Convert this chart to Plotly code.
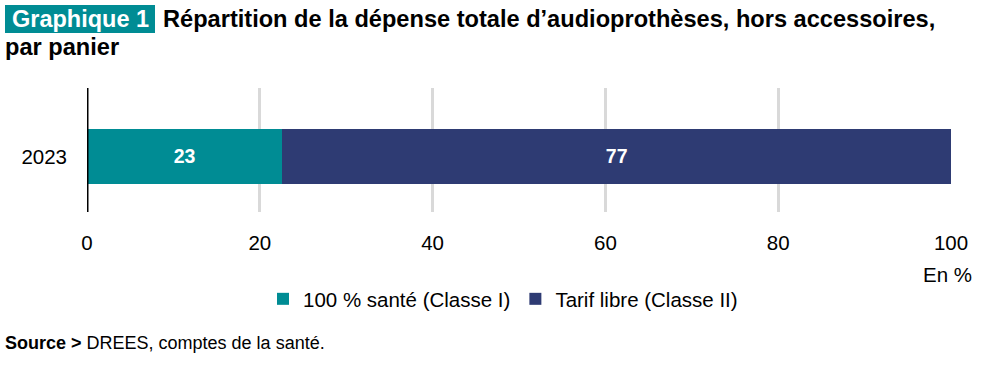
import plotly.graph_objects as go

categories = ["2023"]
series_names = ["100 % santé (Classe I)", "Tarif libre (Classe II)"]
values_classe1 = [22.6]
values_classe2 = [77.4]
colors = ["#008C94", "#2E3B73"]
x_ticks = [0, 20, 40, 60, 80, 100]

FONT = "Liberation Sans, Arial, sans-serif"
L, T, PW, PH = 87, 88, 864, 124  # plot area in px


def px_x(x):
    return (x - L) / PW


def px_y(y):
    return 1 - (y - T) / PH


fig = go.Figure()
for name, vals, col in zip(series_names, [values_classe1, values_classe2], colors):
    fig.add_trace(go.Bar(
        y=categories, x=vals, name=name, orientation="h",
        marker=dict(color=col, line=dict(width=0)),
        width=0.44,
        texttemplate="%{x:.0f}", textposition="inside", insidetextanchor="middle",
        textfont=dict(color="white", size=19.5, family=FONT, weight="bold"),
        hoverinfo="skip",
    ))

fig.update_layout(
    barmode="stack",
    width=981, height=374,
    margin=dict(l=L, r=981 - L - PW, t=T, b=374 - T - PH),
    plot_bgcolor="white", paper_bgcolor="white",
    font=dict(family=FONT, size=21, color="black"),
    showlegend=True,
    legend=dict(orientation="h", x=px_x(503), xanchor="center", y=px_y(299), yanchor="middle",
                font=dict(size=20.5), traceorder="normal", itemwidth=30,
                bgcolor="rgba(0,0,0,0)"),
    xaxis=dict(range=[0, 100], tickvals=x_ticks, showgrid=True, gridcolor="#D9D9D9",
               gridwidth=3, zeroline=False, showline=False, ticks="", tickfont=dict(size=20.5),
               ticklabelstandoff=16),
    yaxis=dict(range=[-0.448, 0.552], showgrid=False, zeroline=False, showline=False,
               ticks="", tickfont=dict(size=20.5), ticklabelstandoff=19),
)

# y axis line at x=0
fig.add_shape(type="line", xref="x", yref="paper", x0=0, x1=0, y0=0, y1=1,
              line=dict(color="black", width=3), layer="above")

# title tag box
fig.add_shape(type="rect", xref="paper", yref="paper", x0=px_x(5), x1=px_x(155),
              y0=px_y(33), y1=px_y(5), fillcolor="#008C94", line=dict(width=0), layer="below")
fig.add_annotation(text="<b>Graphique 1</b>", xref="paper", yref="paper",
                   x=px_x(80), xanchor="center", y=px_y(19), yanchor="middle",
                   showarrow=False, font=dict(color="white", size=23.5, family=FONT))
fig.add_annotation(text="<b>Répartition de la dépense totale d’audioprothèses, hors accessoires,</b>",
                   xref="paper", yref="paper", x=px_x(161), xanchor="left",
                   y=px_y(19), yanchor="middle", showarrow=False,
                   font=dict(color="black", size=23.6, family=FONT))
fig.add_annotation(text="<b>par panier</b>", xref="paper", yref="paper",
                   x=px_x(3), xanchor="left", y=px_y(47), yanchor="middle",
                   showarrow=False, font=dict(color="black", size=23.6, family=FONT))
fig.add_annotation(text="En %", xref="paper", yref="paper", x=px_x(974), xanchor="right",
                   y=px_y(274), yanchor="middle", showarrow=False,
                   font=dict(size=20.5, family=FONT))
fig.add_annotation(text="<b>Source ></b> DREES, comptes de la santé.", xref="paper", yref="paper",
                   x=px_x(3), xanchor="left", y=px_y(343), yanchor="middle",
                   showarrow=False, font=dict(size=18, family=FONT))

fig.write_html("out.html", config={"displayModeBar": False},
               post_script="document.body.style.margin='0px';")
